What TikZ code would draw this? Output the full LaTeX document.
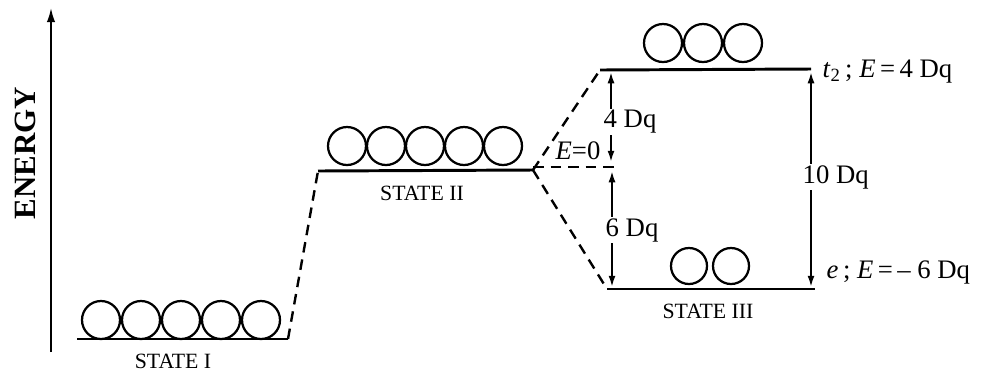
\documentclass[tikz,border=0pt]{standalone}
\usepackage{fontspec}
\setmainfont{Liberation Serif}
\usetikzlibrary{arrows.meta}
\begin{document}
\begin{tikzpicture}[x=0.25mm,y=-0.25mm,
  level/.style={line width=2.1pt},
  conn/.style={line width=1.7pt,dash pattern=on 7.5pt off 5pt},
  orb/.style={line width=1.6pt},
  dim/.style={line width=1.4pt,{Latex[length=8pt,width=5pt]}-{Latex[length=8pt,width=5pt]}},
  lab/.style={font=\fontsize{19}{22}\selectfont,inner sep=1pt},
  statelab/.style={font=\fontsize{15.5}{18}\selectfont},
]
\useasboundingbox (0,0) rectangle (998,373);
% axis
\coordinate (ab) at (51,352);
\coordinate (at) at (51,8);
\draw[line width=1.4pt,-{Latex[length=10pt,width=6pt]}] (ab) -- (at);
\node[rotate=90,font=\bfseries\fontsize{22}{26}\selectfont] (energy) at (25,153) {ENERGY};
% level coordinates
\coordinate (s1l) at (77,339);
\coordinate (s1r) at (288,339);
\coordinate (s2l) at (318,171);
\coordinate (s2r) at (533,170);
\coordinate (t2l) at (600,70);
\coordinate (t2r) at (811,69);
\coordinate (el) at (607,289);
\coordinate (er) at (815,289);
\coordinate (e0r) at (620,167);
% levels
\draw[level] (s1l) -- (s1r);
\draw[level] (s2l) -- (s2r);
\draw[level] (t2l) -- (t2r);
\draw[level] (el) -- (er);
% dashed connectors
\draw[conn] (s1r) -- (s2l);
\draw[conn] (s2r) -- (t2l);
\draw[conn] (s2r) -- (el);
\draw[conn] (s2r |- e0r) -- (e0r);
% electrons
\foreach \x in {101,141,181,221,261} \draw[orb] (\x,320) circle (19);
\foreach \x in {347,386,425,464,503} \draw[orb] (\x,146) circle (19);
\foreach \x in {663,703,743} \draw[orb] (\x,43) circle (19);
\foreach \x in {689,731} \draw[orb] (\x,266) circle (18);
% state labels
\node[statelab] (st1) at (173,361) {STATE I};
\node[statelab] (st2) at (422,193) {STATE II};
\node[statelab] (st3) at (708,311) {STATE III};
% dimension arrows
\coordinate (a4t) at (611,72);
\coordinate (a4b) at (611,162);
\coordinate (a6t) at (612,171);
\coordinate (a6b) at (612,287);
\coordinate (a10t) at (811,72);
\coordinate (a10b) at (811,287);
\draw[dim] (a4b) -- (a4t);
\draw[dim] (a6t) -- (a6b);
\draw[dim] (a10t) -- (a10b);
\node[lab,fill=white,anchor=west] (l4) at (602,122) {4 Dq};
\node[lab,fill=white,anchor=west] (l6) at (604,230) {6 Dq};
\node[lab,fill=white,anchor=west] (l10) at (801,177) {10 Dq};
\node[lab] (le0) at (578,151) {\textit{E}=0};
\node[lab,anchor=west] (lt2) at (821,72) {\textit{t}\textsubscript{2}\,; \textit{E}\,=\,4 Dq};
\node[lab,anchor=west] (le) at (825,272) {\textit{e}\,; \textit{E}\,=\,– 6 Dq};
\end{tikzpicture}
\end{document}
